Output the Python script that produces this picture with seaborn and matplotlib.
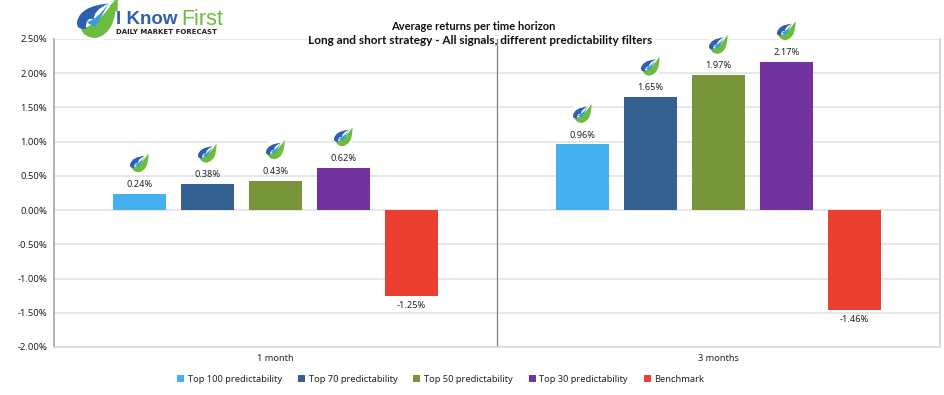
import matplotlib
matplotlib.use('Agg')
import matplotlib.pyplot as plt
import pandas as pd
import seaborn as sns
from matplotlib.patches import PathPatch, Circle, Polygon
from matplotlib.path import Path
from matplotlib.transforms import Affine2D

horizons = ['1 month', '3 months']
filters = ['Top 100 predictability', 'Top 70 predictability', 'Top 50 predictability',
           'Top 30 predictability', 'Benchmark']
returns_1m = [0.24, 0.38, 0.43, 0.62, -1.25]
returns_3m = [0.96, 1.65, 1.97, 2.17, -1.46]
colors = ['#45B0F0', '#356092', '#78953A', '#7033A0', '#EA3F30']
yticks = [-2.0, -1.5, -1.0, -0.5, 0.0, 0.5, 1.0, 1.5, 2.0, 2.5]

sns.set_theme(style='white')
plt.rcParams['font.family'] = ['Noto Sans', 'DejaVu Sans']

df = pd.DataFrame({
    'horizon': [horizons[0]] * 5 + [horizons[1]] * 5,
    'filter': filters * 2,
    'ret': returns_1m + returns_3m
})

fig = plt.figure(figsize = (9.45, 3.95), dpi = 100)
ax = fig.add_axes([54 / 945, 1 - 347 / 395, 886 / 945, 308 / 395])

sns.barplot(
    data = df, x = 'horizon', y = 'ret', hue = 'filter',
    hue_order = filters, palette = colors, saturation = 1,
    width = 0.7675, gap = 0.22, linewidth = 0, ax = ax, zorder = 3
)

ax.set_xlim(-0.5, 1.5)
ax.set_ylim(-2.0, 2.5)
ax.set_yticks(yticks)
ax.set_yticklabels([f'{v:.2f}%' for v in yticks], fontsize = 6.8, color = '#222222')
ax.set_xlabel('')
ax.set_ylabel('')
ax.tick_params(axis = 'x', length = 0, pad = 5, labelsize = 6.6, labelcolor = '#222222')
ax.tick_params(axis = 'y', length = 0, pad = 5)
ax.grid(axis = 'y', color = '#E0E0E0', lw = 1.1, zorder = 0)
ax.set_axisbelow(True)
ax.spines['top'].set_visible(False)
ax.spines['left'].set_color('#A6A6A6')
ax.spines['left'].set_linewidth(1.2)
ax.spines['right'].set_color('#D0D0D0')
ax.spines['right'].set_linewidth(1.2)
ax.spines['bottom'].set_color('#D9D9D9')
ax.spines['bottom'].set_linewidth(1.1)
ax.axvline(0.5, color = '#808080', lw = 0.9, zorder = 2)

for c in ax.containers:
    ax.bar_label(c, fmt = '%.2f%%', padding = 3.5, fontsize = 6.6, color = '#222222')

# legend
h, l = ax.get_legend_handles_labels()
ax.legend(
    h, l, loc = 'center', bbox_to_anchor = (441 / 945, 1 - 379 / 395),
    bbox_transform = fig.transFigure, ncol = 5, frameon = False,
    fontsize = 6.7, handlelength = 0.75, handleheight = 0.75,
    handletextpad = 0.4, columnspacing = 1.7, labelcolor = '#222222'
)

# titles
fig.text(473 / 945, 1 - 26 / 395, 'Average returns per time horizon',
         ha = 'center', va = 'center', fontsize = 8.0, fontweight = 'bold',
         family = 'Lato', color = '#111111')
fig.text(480.5 / 945, 1 - 41 / 395, 'Long and short strategy - All signals, different predictability filters',
         ha = 'center', va = 'center', fontsize = 8.5, fontweight = 'bold',
         family = 'Lato', color = '#111111')

# swoosh logo, unit coords about -1..1
M, C = Path.MOVETO, Path.CURVE3
blue = Path(
    [(-1.0, -0.2), (-0.85, 0.6), (0.55, 0.72), (-0.2, 0.35), (-0.15, -0.05),
     (-0.6, 0.05), (-0.55, -0.55), (-1.05, -0.6), (-1.0, -0.2)],
    [M, C, C, C, C, C, C, C, C]
)
green = Path(
    [(-0.8, -0.55), (0.1, -0.35), (0.95, 1.0), (1.0, -0.75), (-0.05, -1.0),
     (-0.65, -1.0), (-0.8, -0.55)],
    [M, C, C, C, C, C, C]
)
lite = Path(
    [(-0.5, -0.2), (0.05, -0.05), (0.62, 0.8), (0.2, 0.05), (-0.05, -0.42), (-0.4, -0.35), (-0.5, -0.2)],
    [M, C, C, C, C, C, C]
)

def draw_icon(x, y, s, arrow = False):
    tr = Affine2D().scale(s).translate(x, 395 - y)
    ax.add_patch(Circle((x, 395 - y), 1.12 * s, fc = 'white', ec = 'none',
                        transform = Affine2D(), clip_on = False, zorder = 4))
    for p, col in [(green, '#6DBB3F'), (blue, '#2F5FAF'), (lite, '#35A0DC')]:
        ax.add_patch(PathPatch(p, fc = col, ec = 'none', transform = tr,
                               clip_on = False, zorder = 5))
    if arrow:
        ax.add_patch(Polygon([(0.62, 0.62), (1.05, 0.95), (1.02, 0.28)], fc = '#6DBB3F', ec = 'none',
                             transform = tr, clip_on = False, zorder = 5))

# icons sit a fixed distance above each positive bar
fig.canvas.draw()
for c in ax.containers:
    for bar in c:
        if bar.get_height() > 0:
            px = ax.transData.transform((bar.get_x() + bar.get_width() / 2, bar.get_height()))
            draw_icon(px[0], 395 - px[1] - 31, 9.5)

# company logo
draw_icon(97, 18, 20, arrow = True)
fig.text(116 / 945, 1 - 19.5 / 395, 'I Know', ha = 'left', va = 'center', fontsize = 13.5,
         fontweight = 'bold', family = 'Liberation Sans', color = '#2F5FAF')
fig.text(181 / 945, 1 - 19.5 / 395, 'First', ha = 'left', va = 'center', fontsize = 15.5,
         family = 'Liberation Sans', color = '#6DBB3F')
fig.text(116 / 945, 1 - 31.5 / 395, 'DAILY MARKET FORECAST', ha = 'left', va = 'center', fontsize = 5.0,
         fontweight = 'bold', family = 'DejaVu Sans', color = '#222222')

fig.savefig('out.png', dpi = 100)
